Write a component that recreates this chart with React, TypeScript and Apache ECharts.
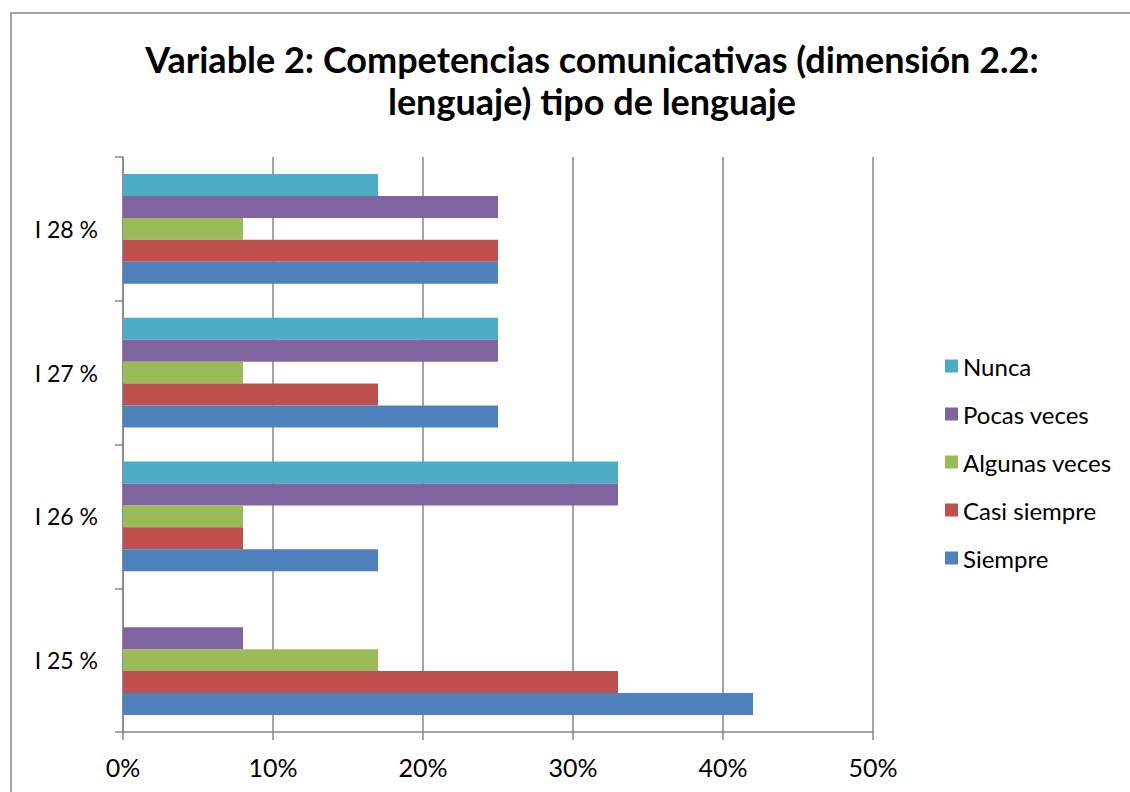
import React, { useEffect, useRef } from "react";
import * as echarts from "echarts";

const categories = ["I 25 %", "I 26 %", "I 27 %", "I 28 %"];
const seriesNames = ["Siempre", "Casi siempre", "Algunas veces", "Pocas veces", "Nunca"];
const siempre = [42, 17, 25, 25];
const casiSiempre = [33, 8, 17, 25];
const algunasVeces = [17, 8, 8, 8];
const pocasVeces = [8, 33, 25, 25];
const nunca = [0, 33, 25, 17];
const colors = ["#4F81BD", "#C0504D", "#9BBB59", "#8064A2", "#4BACC6"];
const xTicks = [0, 10, 20, 30, 40, 50];

const FONT = "Lato, 'Noto Sans', sans-serif";

export default function App() {
  const ref = useRef<HTMLDivElement>(null);
  useEffect(() => {
    if (!ref.current) return;
    const chart = echarts.init(ref.current, null, { renderer: "svg" });
    const values = [siempre, casiSiempre, algunasVeces, pocasVeces, nunca];
    // ECharts places the first series at the top of a horizontal band, so draw in reverse order
    const order = [4, 3, 2, 1, 0];
    chart.setOption({
      animation: false,
      backgroundColor: "#ffffff",
      textStyle: { fontFamily: FONT },
      title: {
        text: "Variable 2: Competencias comunicativas (dimensión 2.2:\nlenguaje) tipo de lenguaje",
        left: 587,
        top: 33,
        textAlign: "center",
        textStyle: { fontFamily: FONT, fontSize: 36, fontWeight: "bold", color: "#000", lineHeight: 42 },
      },
      legend: {
        orient: "vertical",
        left: 940,
        top: 349,
        itemWidth: 13,
        itemHeight: 13,
        itemGap: 24,
        icon: "rect",
        data: ["Nunca", "Pocas veces", "Algunas veces", "Casi siempre", "Siempre"],
        textStyle: { fontFamily: FONT, fontSize: 24, color: "#000", lineHeight: 23 },
      },
      grid: { left: 123, right: 257, top: 157, bottom: 60, containLabel: false },
      xAxis: {
        type: "value",
        min: xTicks[0],
        max: xTicks[xTicks.length - 1],
        interval: 10,
        axisLine: { show: true, lineStyle: { color: "#868686", width: 1.5 } },
        axisTick: { show: true, length: 8, lineStyle: { color: "#868686", width: 1.5 } },
        splitLine: { show: true, lineStyle: { color: "#868686", width: 1.5 } },
        axisLabel: { formatter: "{value}%", fontFamily: FONT, fontSize: 25, color: "#000", margin: 22 },
      },
      yAxis: {
        type: "category",
        data: categories,
        axisLine: { show: true, lineStyle: { color: "#868686", width: 1.5 } },
        axisTick: { show: true, length: 8, lineStyle: { color: "#868686", width: 1.5 } },
        axisLabel: { fontFamily: FONT, fontSize: 23, color: "#000", margin: 25 },
      },
      series: order.map((i) => ({
        name: seriesNames[i],
        type: "bar",
        data: values[i],
        barGap: 0,
        barCategoryGap: "23.6%",
        itemStyle: { color: colors[i] },
      })),
      graphic: [
        {
          type: "rect",
          shape: { x: 11, y: 13, width: 1130, height: 800 },
          style: { fill: "none", stroke: "#868686", lineWidth: 1.5 },
          silent: true,
        },
      ],
    });
    return () => chart.dispose();
  }, []);
  return <div ref={ref} style={{ position: "absolute", left: 0, top: 0, width: 1130, height: 792 }} />;
}
